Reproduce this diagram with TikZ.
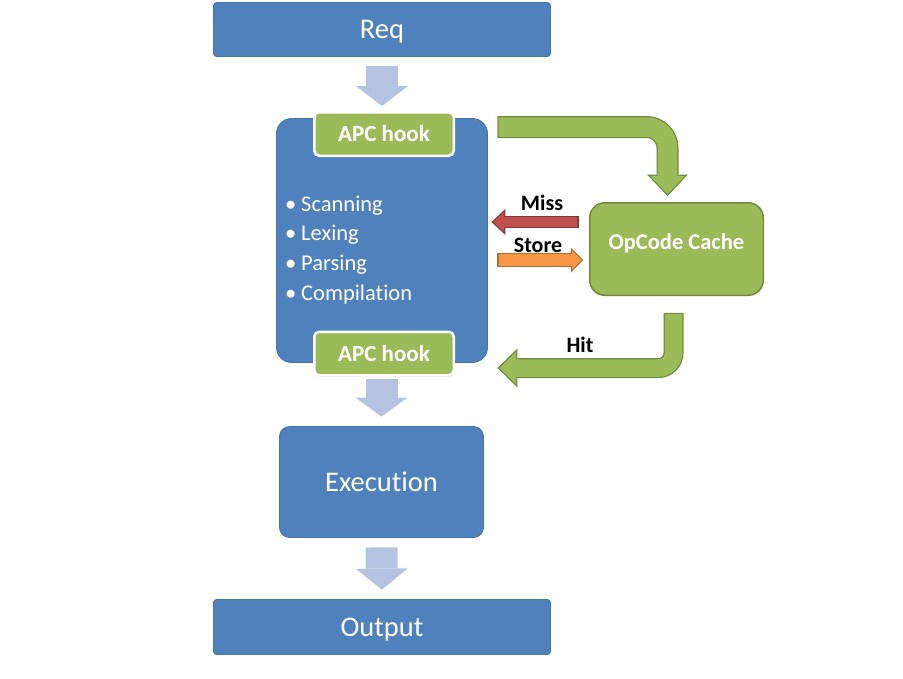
\documentclass[tikz,border=0pt]{standalone}
\usepackage{fontspec}
\setmainfont{Carlito}[Ligatures=NoCommon]
\usetikzlibrary{arrows.meta, shadows}

\definecolor{blu}{HTML}{4F81BD}
\definecolor{bluline}{HTML}{4674AC}
\definecolor{lightblu}{HTML}{B4C4E0}
\definecolor{grn}{HTML}{9BBB59}
\definecolor{grnline}{HTML}{71893F}
\definecolor{redarr}{HTML}{C0504D}
\definecolor{redline}{HTML}{8C3836}
\definecolor{orgarr}{HTML}{F79646}
\definecolor{orgline}{HTML}{B66D31}

\begin{document}
\begin{tikzpicture}[x=1pt, y=-1pt]
        \tikzstyle{every node} = [font=\fontsize{22}{24}\selectfont]
        \tikzstyle{bigbox} = [draw=bluline, line width=0.8pt, fill=blu, text=white, rounded corners=3pt,
                font=\fontsize{28.5}{30}\selectfont, text height=18pt, text depth=0pt]
        \tikzstyle{hook} = [draw=white, line width=2.5pt, fill=grn, text=white, rounded corners=5pt,
                font=\fontsize{23}{25}\selectfont\bfseries, minimum width=139.5pt, minimum height=43.5pt,
                text height=15pt, text depth=0pt, drop shadow={opacity=0.3, shadow xshift=1pt, shadow yshift=-1.5pt}]
        \tikzstyle{cachebox} = [draw=grnline, line width=1.5pt, fill=grn, text=white, rounded corners=15pt,
                font=\fontsize{22.5}{24}\selectfont\bfseries, minimum width=173.5pt, minimum height=92.5pt,
                text height=14pt, text depth=14pt]
        \tikzstyle{itemtxt} = [anchor=base west, inner sep=0pt, text=white, font=\fontsize{22.5}{24}\selectfont]
        \tikzstyle{lbl} = [inner sep=0pt, font=\fontsize{22}{24}\selectfont\bfseries, text height=14pt, text depth=0pt]
        \tikzstyle{flow} = [line width=32pt, draw=lightblu, -{Triangle[length=20pt, width=52pt, line width=0pt]}]

        \fill[white] (0,0) rectangle (903,678);

        % boxes of the flow
        \node[bigbox, minimum width=337pt, minimum height=54pt] (req) at (382,29.5) {Req};
        \node[bigbox, rounded corners=15pt, minimum width=211pt, minimum height=244pt] (comp) at (382,240.5) {};
        \node[bigbox, rounded corners=10pt, minimum width=204pt, minimum height=111pt] (exec) at (381.5,482) {Execution};
        \node[bigbox, minimum width=337pt, minimum height=55pt] (out) at (382,627) {Output};
        \node[hook] (hooktop) at (384,134) {APC hook};
        \node[hook] (hookbot) at (384,353.5) {APC hook};
        \node[cachebox] (cache) at (676.5,249) {OpCode Cache};

        \foreach[count=\c] \stap in {Scanning, Lexing, Parsing, Compilation}
            \node[itemtxt] (item\c) at (285,{181.2+29.8*\c}) {\makebox[16pt][l]{•}\stap};

        \node[lbl] (miss) at (542,203.5) {Miss};
        \node[lbl] (store) at (538,245) {Store};
        \node[lbl] (hit) at (580,345) {Hit};

        % light arrows
        \draw[flow, shorten <=9pt, shorten >=5pt] (req.south) -- (req.south |- hooktop.north);
        \draw[flow, shorten <=2pt, shorten >=9.5pt, -{Triangle[length=19pt, width=52pt, line width=0pt]}]
            (hookbot.south -| exec.north) -- (exec.north);
        \draw[flow, shorten <=9.5pt, shorten >=9.5pt, -{Triangle[length=21pt, width=52pt, line width=0pt]}]
            (exec.south) -- (out.north);

        % miss and store
        \draw[draw=redline, line width=12.5pt, shorten <=10.5pt, shorten >=3.5pt,
            -{Triangle[length=14pt, width=26pt, line width=0pt]}] (cache.west |- 0,222) -- (comp.east |- 0,222);
        \draw[draw=redarr, line width=10pt, shorten <=11.75pt, shorten >=5.3pt,
            -{Triangle[length=10.9pt, width=20.2pt, line width=0pt]}] (cache.west |- 0,222) -- (comp.east |- 0,222);
        \draw[draw=orgline, line width=14pt, shorten <=9.5pt, shorten >=5.75pt,
            -{Triangle[length=12.5pt, width=25pt, line width=0pt]}] (comp.east |- 0,260) -- (cache.west |- 0,260);
        \draw[draw=orgarr, line width=11.5pt, shorten <=10.75pt, shorten >=7.5pt,
            -{Triangle[length=9.5pt, width=19pt, line width=0pt]}] (comp.east |- 0,260) -- (cache.west |- 0,260);

        % bent green arrows
        \draw[draw=grnline, line width=22pt, rounded corners=21pt, shorten <=9.5pt, shorten >=6pt,
            -{Triangle[length=21.5pt, width=41pt, line width=0pt]}] (comp.east |- 0,127) -| (cache.north -| 667.5,0);
        \draw[draw=grn, line width=19.5pt, rounded corners=21pt, shorten <=10.75pt, shorten >=7.8pt,
            -{Triangle[length=18.4pt, width=35.2pt, line width=0pt]}] (comp.east |- 0,127) -| (cache.north -| 667.5,0);
        \draw[draw=grnline, line width=20pt, rounded corners=15pt, shorten <=16.75pt, shorten >=9.5pt,
            -{Triangle[length=20pt, width=39pt, line width=0pt]}] (cache.south -| 673.5,0) |- (comp.east |- 0,368);
        \draw[draw=grn, line width=17.5pt, rounded corners=15pt, shorten <=18pt, shorten >=11.3pt,
            -{Triangle[length=17pt, width=33pt, line width=0pt]}] (cache.south -| 673.5,0) |- (comp.east |- 0,368);
    \end{tikzpicture}
\end{document}
